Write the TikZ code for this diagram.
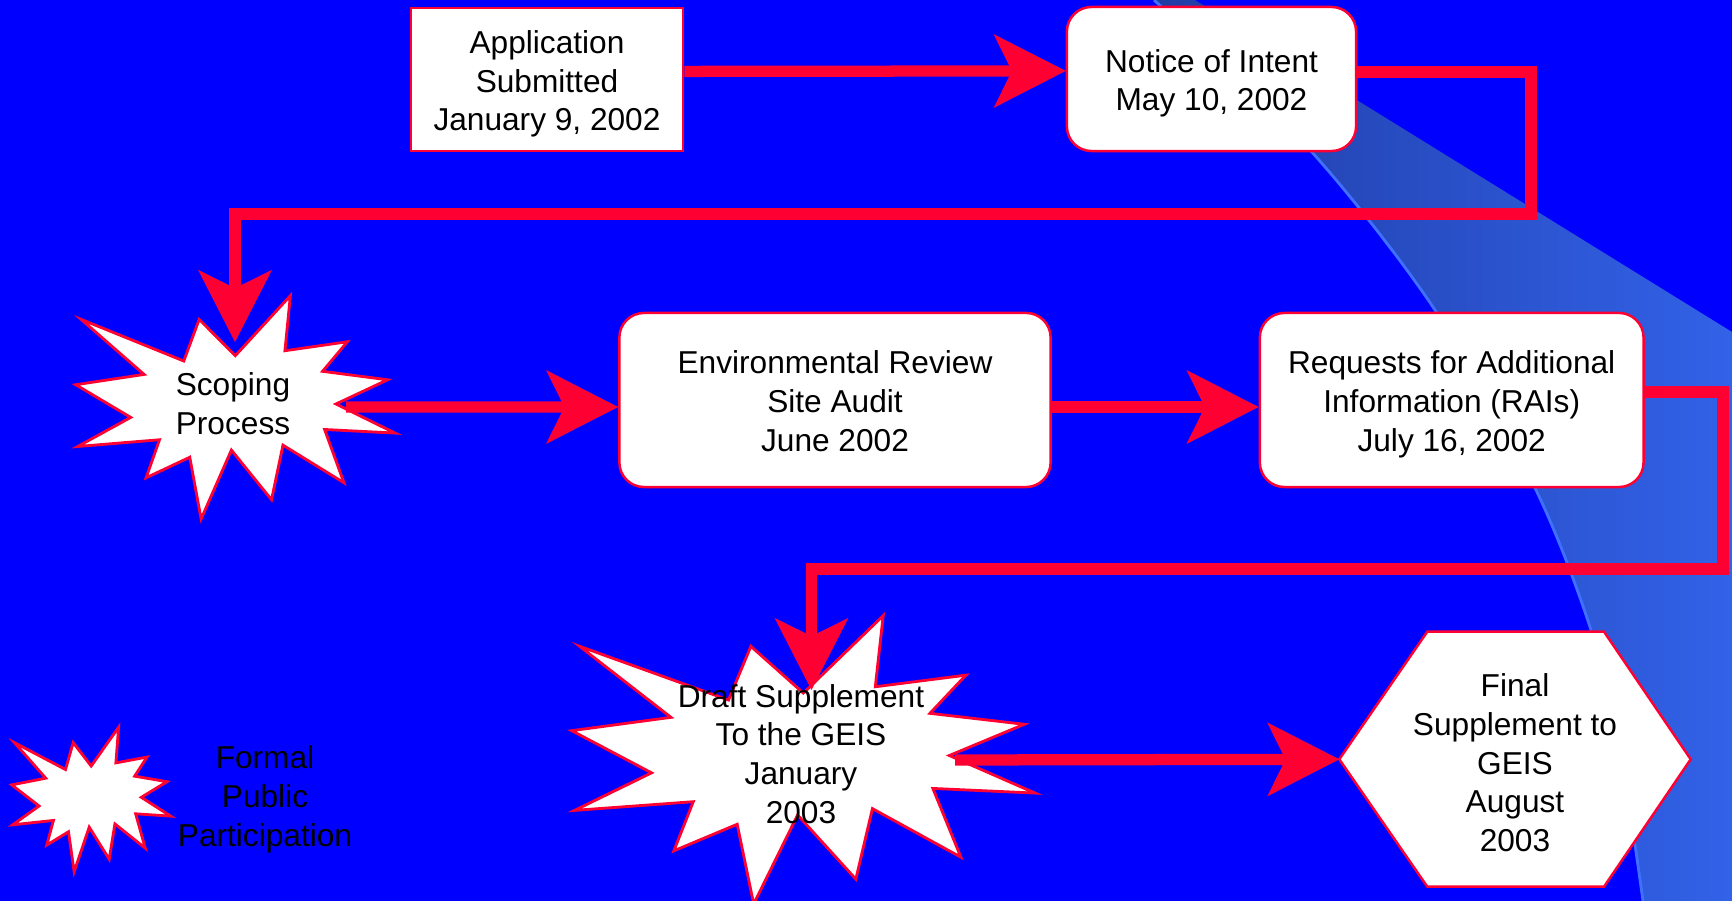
\documentclass[tikz,border=0pt]{standalone}
\usepackage{fontspec}
\setmainfont{Liberation Sans}
\usepackage{tikz}
\usetikzlibrary{arrows.meta}

\definecolor{bgblue}{RGB}{0,0,255}
\definecolor{arrowred}{RGB}{255,0,51}
\definecolor{swoopdark}{RGB}{32,60,165}
\definecolor{swooplight}{RGB}{50,98,232}
\definecolor{swoopedge}{RGB}{64,112,255}

\tikzset{
  boxtext/.style={align=center, font={\fontsize{9}{11}\selectfont}},
  plainbox/.style={boxtext, draw=arrowred, fill=white, line width=0.7pt, inner sep=2pt,
    text height=29.2pt, text depth=0pt},
  roundbox/.style={plainbox, rounded corners=7pt},
  twolines/.style={text height=18.2pt},
  redarrow/.style={draw=arrowred, line width=3.2pt, line join=miter,
    -{Stealth[length=20.5pt, width=21pt, inset=5.2pt, line width=0pt]}},
  burst/.style={draw=arrowred, fill=white, line width=0.8pt, line join=miter,
    insert path={(50,26.85) -- (67.23,0) -- (65.53,24.65) -- (85.09,20.63) -- (77.32,33.87)
      -- (97.67,37.67) -- (81.51,48.50) -- (100,61.53) -- (77.95,59.92) -- (84.00,83.77)
      -- (64.91,66.93) -- (61.33,91.38) -- (48.76,69.14) -- (39.28,100) -- (35.72,72.35)
      -- (22.05,81.56) -- (26.24,64.52) -- (0.63,67.53) -- (17.23,54.51) -- (0,39.88)
      -- (21.42,35.26) -- (1.71,10.63) -- (33.85,29.26) -- (38.67,10.63) -- cycle}}
}

\begin{document}
\begin{tikzpicture}[x=0.01cm, y=-0.01cm]

% Background and the light band on the right
\useasboundingbox (0,0) rectangle (1732,901);
\fill[bgblue] (0,0) rectangle (1732,901);
\shade[left color=swoopdark, right color=swooplight]
  plot[smooth] coordinates {(1154,0) (1310,150) (1435,310) (1535,488) (1590,627) (1620,750) (1643,901)}
  -- (1732,901) -- (1732,332) -- (1195,0) -- cycle;
\draw[swoopedge, line width=0.8pt]
  plot[smooth] coordinates {(1154,0) (1310,150) (1435,310) (1535,488) (1590,627) (1620,750) (1643,901)};

% Points where the arrows meet the shapes
\coordinate (scop-in) at (235,342);
\coordinate (scop-out) at (346,407);
\coordinate (draft-in) at (811.5,690);
\coordinate (draft-out) at (955,760);
\coordinate (fin-w) at (1339.3,759.3);

% Draw the explosions
\draw[shift={(75.7,295.7)}, xscale=3.193, yscale=2.233, burst];
\draw[shift={(571.7,615.7)}, xscale=4.633, yscale=2.883, burst];
\draw[shift={(11.7,727.3)}, xscale=1.59, yscale=1.444, burst];

% Draw the hexagon
\draw[draw=arrowred, fill=white, line width=0.7pt, line join=miter]
  (fin-w) -- (1427.3,631.7) -- (1604,631.7) -- (1690.7,759.3) -- (1604,886.7) -- (1427.3,886.7) -- cycle;

% Boxes and labels
\node[plainbox, minimum width=2.72cm, minimum height=1.43cm] (app) at (547,79.5)
  {Application\\Submitted\\January 9, 2002};
\node[roundbox, twolines, minimum width=2.89cm, minimum height=1.44cm] (noi) at (1211.5,79)
  {Notice of Intent\\May 10, 2002};
\node[roundbox, minimum width=4.31cm, minimum height=1.74cm] (env) at (835,400)
  {Environmental Review\\Site Audit\\June 2002};
\node[roundbox, minimum width=3.835cm, minimum height=1.74cm] (rai) at (1451.7,400)
  {Requests for Additional\\Information (RAIs)\\July 16, 2002};
\node[boxtext] (scop) at (233,404) {Scoping\\Process};
\node[boxtext] (draft) at (801,754) {Draft Supplement\\To the GEIS\\January\\2003};
\node[boxtext] (fin) at (1515,763) {Final\\Supplement to\\GEIS\\August\\2003};
\node[boxtext] (leg) at (265,799.5) {Formal\\Public\\Participation};

% Draw the arrows
\draw[redarrow] ([yshift=2.3pt]app.east) -- ([yshift=2.3pt]noi.west);
\draw[redarrow] ([yshift=2pt]noi.east) -| (1531,214) -| (scop-in);
\draw[redarrow] (scop-out) -- ([yshift=-2pt]env.west);
\draw[redarrow] ([yshift=-2pt]env.east) -- ([yshift=-2pt]rai.west);
\draw[redarrow] ([yshift=2.3pt]rai.east) -| (1723,569) -| (draft-in);
\draw[redarrow] (draft-out) -- (fin-w);

\end{tikzpicture}
\end{document}
